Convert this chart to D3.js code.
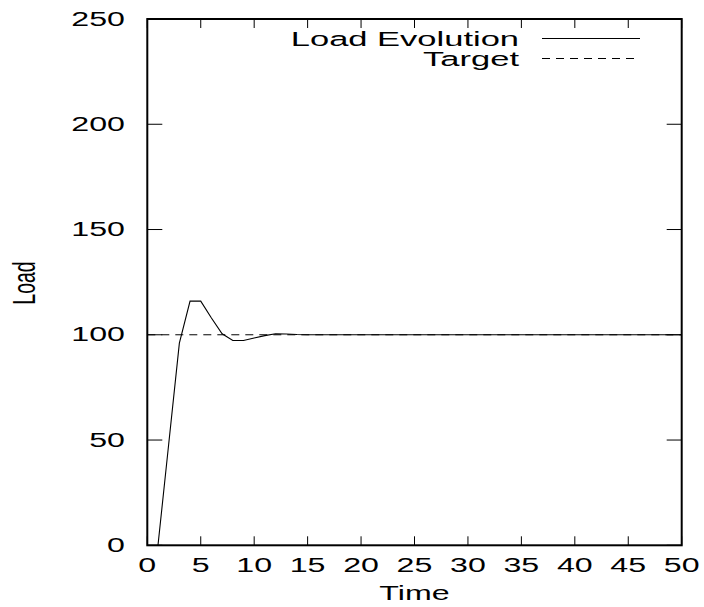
<!DOCTYPE html>
<html>
<head>
<meta charset="utf-8">
<script src="https://d3js.org/d3.v7.min.js"></script>
<style>
  body { margin: 0; background: #fff; }
  text { font-family: "Liberation Sans", Arial, sans-serif; font-size: 19.5px; fill: #000; }
</style>
</head>
<body>
<div id="chart"></div>
<script>
// load evolution over time
let time_vals = [1, 2, 3, 4, 5, 6, 7, 8, 9, 10, 11, 12, 13, 14, 15, 20, 25, 30, 35, 40, 45, 50];
let load_vals = [0, 48, 96, 116, 116, 108, 100.5, 97.3, 97.3, 98.5, 99.6, 100.5, 100.4, 100.1, 100, 100, 100, 100, 100, 100, 100, 100];
let target_val = 100;

let x_ticks = [0, 5, 10, 15, 20, 25, 30, 35, 40, 45, 50];
let y_ticks = [0, 50, 100, 150, 200, 250];

let legend_names = ["Load Evolution", "Target"];
let legend_dash = ["none", "8,6"];

let chart_width = 704;
let chart_height = 607;
let sx = 1.65; // text looks stretched sideways in the original
let sx_legend = 1.77;

let svg = d3.select("#chart")
    .append("svg")
    .attr("width", chart_width)
    .attr("height", chart_height);

let xScale = d3.scaleLinear()
    .domain([0, 50])
    .range([147.3, 681.7]);

let yScale = d3.scaleLinear()
    .domain([0, 250])
    .range([545.3, 19]);

let x0 = xScale.range()[0], x1 = xScale.range()[1];
let y0 = yScale.range()[0], y1 = yScale.range()[1];

// ticks, inward on all four sides
let ticks = svg.append("g").attr("stroke", "#000").attr("stroke-width", 1);
for (let v of x_ticks) {
    ticks.append("line")
        .attr("x1", xScale(v)).attr("x2", xScale(v))
        .attr("y1", y0).attr("y2", y0 - 9);
    ticks.append("line")
        .attr("x1", xScale(v)).attr("x2", xScale(v))
        .attr("y1", y1).attr("y2", y1 + 9);
}
for (let v of y_ticks) {
    ticks.append("line")
        .attr("x1", x0).attr("x2", x0 + 15)
        .attr("y1", yScale(v)).attr("y2", yScale(v));
    ticks.append("line")
        .attr("x1", x1).attr("x2", x1 - 15)
        .attr("y1", yScale(v)).attr("y2", yScale(v));
}

// tick labels
svg.selectAll(".xlab")
    .data(x_ticks)
    .enter()
    .append("text")
    .attr("class", "xlab")
    .attr("text-anchor", "middle")
    .attr("transform", function(d) { return "translate(" + xScale(d) + ",572) scale(" + sx + ",1)"; })
    .text(function(d) { return d; });

svg.selectAll(".ylab")
    .data(y_ticks)
    .enter()
    .append("text")
    .attr("class", "ylab")
    .attr("text-anchor", "end")
    .attr("transform", function(d) { return "translate(125," + (yScale(d) + 6.5) + ") scale(" + sx + ",1)"; })
    .text(function(d) { return d; });

// target line
svg.append("line")
    .attr("x1", x0).attr("x2", x1)
    .attr("y1", yScale(target_val)).attr("y2", yScale(target_val))
    .attr("stroke", "#000")
    .attr("stroke-width", 1)
    .attr("stroke-dasharray", legend_dash[1]);

// load line
let chart_line = d3.line()
    .x(function(d) { return xScale(d[0]); })
    .y(function(d) { return yScale(d[1]); });

svg.append("path")
    .attr("d", chart_line(time_vals.map(function(t, i) { return [t, load_vals[i]]; })))
    .attr("fill", "none")
    .attr("stroke", "#000")
    .attr("stroke-width", 1.1);

// frame
svg.append("rect")
    .attr("x", x0).attr("y", y1)
    .attr("width", x1 - x0).attr("height", y0 - y1)
    .attr("fill", "none")
    .attr("stroke", "#000")
    .attr("stroke-width", 2);

// legend
let legend = svg.selectAll(".legend")
    .data(legend_names)
    .enter()
    .append("g")
    .attr("class", "legend")
    .attr("transform", function(d, i) { return "translate(0," + (38.5 + i * 20) + ")"; });

legend.append("line")
    .attr("x1", 542).attr("x2", 640)
    .attr("y1", 0).attr("y2", 0)
    .attr("stroke", "#000")
    .attr("stroke-width", 1)
    .attr("stroke-dasharray", function(d, i) { return legend_dash[i]; });

legend.append("text")
    .attr("text-anchor", "end")
    .attr("transform", "translate(519,7.5) scale(" + sx_legend + ",1)")
    .text(function(d) { return d; });

// axis titles
svg.append("text")
    .attr("text-anchor", "middle")
    .attr("transform", "translate(" + ((x0 + x1) / 2) + ",600) scale(" + sx + ",1)")
    .text("Time");

svg.append("text")
    .attr("text-anchor", "middle")
    .attr("transform", "translate(35,283) scale(" + sx + ",1) rotate(-90)")
    .text("Load");
</script>
</body>
</html>
